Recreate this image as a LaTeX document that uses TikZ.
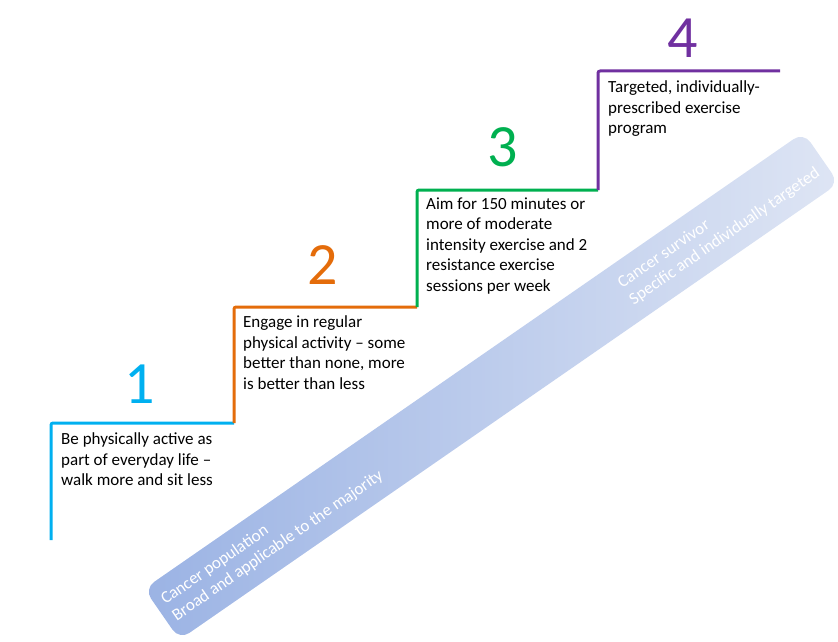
\documentclass[tikz,border=0pt]{standalone}
\usepackage{fontspec}
\setmainfont{Carlito}
\definecolor{cblue}{RGB}{0,176,240}
\definecolor{corange}{RGB}{228,108,10}
\definecolor{cgreen}{RGB}{0,176,80}
\definecolor{cpurple}{RGB}{112,48,160}
\definecolor{banddark}{RGB}{155,179,228}
\definecolor{bandlight}{RGB}{222,229,244}
\begin{document}
\begin{tikzpicture}[x=1pt,y=-1pt,
  stair/.style={line width=3pt, rounded corners=2pt, line join=round},
  desc/.style={anchor=north west, inner sep=0pt, align=left, font=\fontsize{17}{20.5}\selectfont, text=black},
  num/.style={anchor=base, inner sep=0pt, font=\fontsize{60}{60}\selectfont},
  bandtext/.style={anchor=west, inner sep=0pt, align=left, rotate=34.7, text=white, font=\fontsize{17}{20}\selectfont}]
\useasboundingbox (0,0) rectangle (838,642);
% band
\node[draw=none, rotate=34.7, minimum width=802pt, minimum height=62pt, rounded corners=12pt,
  left color=banddark, right color=bandlight, inner sep=0pt] (band) at (491.5,386) {};
\node[bandtext] (bandlow) at (168.5,609.6) {Cancer population\\Broad and applicable to the majority};
\node[bandtext] (bandhigh) at (625.5,293.3) {Cancer survivor\\Specific and individually targeted};
% stair corners
\coordinate (a0) at (51,540);
\coordinate (a1) at (51,423);
\coordinate (b0) at (234,423);
\coordinate (b1) at (234,307);
\coordinate (c0) at (417,307);
\coordinate (c1) at (417,190);
\coordinate (d0) at (598,190);
\coordinate (d1) at (598,71);
\coordinate (e0) at (780,71);
\draw[stair, cblue] (a0) -- (a1) -- (b0);
\draw[stair, corange] (b0) -- (b1) -- (c0);
\draw[stair, cgreen] (c0) -- (c1) -- (d0);
\draw[stair, cpurple] (d0) -- (d1) -- (e0);
% numbers
\node[num, text=cblue] (n1) at (140,403) {1};
\node[num, text=corange] (n2) at (323,284) {2};
\node[num, text=cgreen] (n3) at (503,166) {3};
\node[num, text=cpurple] (n4) at (683,58) {4};
% descriptions
\node[desc] (t1) at (61,432.5) {Be physically active as\\part of everyday life --\\walk more and sit less};
\node[desc] (t2) at (243,315.5) {Engage in regular\\physical activity -- some\\better than none, more\\is better than less};
\node[desc] (t3) at (426,197.5) {Aim for 150 minutes or\\more of moderate\\intensity exercise and 2\\resistance exercise\\sessions per week};
\node[desc] (t4) at (608,80.5) {Targeted, individually-\\prescribed exercise\\program};
\end{tikzpicture}
\end{document}
